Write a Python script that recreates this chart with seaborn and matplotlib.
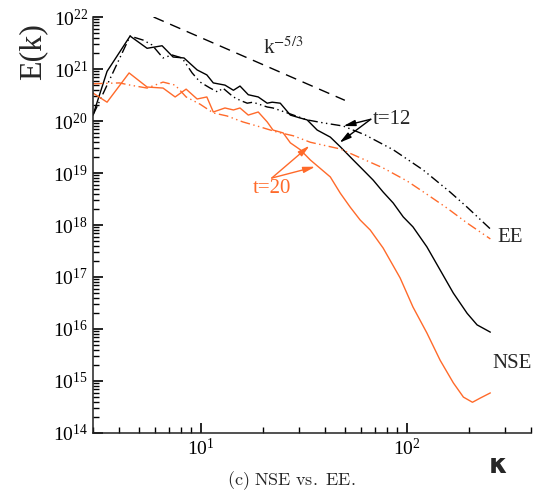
import numpy as np
import pandas as pd
import matplotlib
matplotlib.use("Agg")
import matplotlib.pyplot as plt
import seaborn as sns
from matplotlib.ticker import LogLocator, NullFormatter

# ---------------- data ----------------
k_nse12 = [3.0, 3.51, 4.54, 5.49, 6.49, 7.34, 8.29, 9.6, 10.7, 11.5, 13.1, 14.4, 15.5, 17.0,
           19.0, 21.0, 22.2, 24.3, 27.2, 30.4, 32.8, 36.7, 42.5, 47.5, 54.9, 61.4, 68.6, 76.7,
           85.8, 96.0, 107, 125, 145, 168, 196, 219, 254]
E_nse12 = [1.3e20, 9.0e20, 4.3e21, 2.5e21, 2.8e21, 1.7e21, 1.63e21, 9.6e20, 7.7e20, 5.4e20,
           4.9e20, 3.9e20, 4.7e20, 3.2e20, 2.9e20, 2.2e20, 2.3e20, 2.2e20, 1.3e20, 1.14e20,
           1.05e20, 6.7e19, 4.9e19, 3.2e19, 1.78e19, 1.14e19, 7.3e18, 4.3e18, 2.65e18, 1.43e18,
           9.2e17, 3.8e17, 1.36e17, 4.9e16, 2.0e16, 1.2e16, 8.7e15]

k_ee12 = [3.0, 3.63, 4.54, 5.25, 5.80, 6.56, 7.26, 8.11, 9.08, 9.93, 11.1, 12.1, 12.8, 14.4,
          15.5, 16.8, 17.9, 21.0, 22.4, 26.3, 32.8, 39.3, 49.1, 62.7, 85.8, 120, 162, 196, 254]
E_ee12 = [1.3e20, 6.5e20, 4.3e21, 3.6e21, 2.9e21, 1.63e21, 1.86e21, 1.63e21, 8.4e20, 5.6e20,
          4.3e20, 3.6e20, 4.3e20, 2.9e20, 2.5e20, 2.2e20, 2.3e20, 1.86e20, 1.78e20, 1.43e20,
          1.05e20, 9.2e19, 8.0e19, 5.4e19, 2.8e19, 1.14e19, 4.3e18, 2.2e18, 8.4e17]

k_nse20 = [3.0, 3.51, 4.49, 5.49, 6.56, 7.51, 8.49, 9.6, 10.7, 11.5, 13.1, 14.4, 15.5, 17.0,
           19.0, 21.0, 22.4, 25.1, 27.2, 30.4, 34.0, 42.5, 47.5, 53.1, 59.3, 66.4, 76.7, 92.7,
           107, 125, 145, 168, 188, 208, 227, 254]
E_nse20 = [3.45e20, 2.3e20, 8.4e20, 4.5e20, 4.3e20, 2.9e20, 4.1e20, 2.65e20, 2.9e20, 1.49e20,
           1.78e20, 1.63e20, 1.78e20, 1.3e20, 1.49e20, 9.6e19, 6.7e19, 5.9e19, 3.8e19, 2.8e19,
           1.78e19, 8.4e18, 4.1e18, 2.2e18, 1.25e18, 8.0e17, 3.6e17, 9.6e16, 2.65e16, 8.4e15,
           2.5e15, 9.2e14, 4.9e14, 3.9e14, 4.7e14, 5.9e14]

k_ee20 = [3.0, 4.03, 4.54, 5.49, 6.56, 7.51, 8.49, 9.93, 11.5, 13.4, 16.0, 19.4, 23.5, 28.1,
          34.0, 47.5, 76.7, 100.3, 125, 157, 196, 254]
E_ee20 = [5.2e20, 5.4e20, 4.9e20, 4.3e20, 5.6e20, 4.9e20, 2.9e20, 2.1e20, 1.43e20, 1.25e20,
          9.6e19, 7.7e19, 6.1e19, 5.2e19, 3.9e19, 2.9e19, 1.25e19, 7.0e18, 3.9e18, 2.1e18,
          1.09e18, 5.4e17]

# k^-5/3 reference line (end points)
k_ref = [5.9, 50.0]
E_ref = [1.0e22, 2.5e20]

# ---------------- style ----------------
sns.set_style("ticks")
plt.rcParams["font.family"] = ["Liberation Serif", "DejaVu Sans"]
plt.rcParams["mathtext.fontset"] = "stix"

ORANGE = "#FF6A2A"
DASH_DOT_DOT = (0, (7, 2.5, 1, 2.5, 1, 2.5))

fig = plt.figure(figsize=(5.35, 4.93), dpi=100)
ax = fig.add_axes([93 / 535, 1 - 433 / 493, 438 / 535, 416 / 493])

series = [
    (k_nse12, E_nse12, "black", "-"),
    (k_ee12, E_ee12, "black", DASH_DOT_DOT),
    (k_nse20, E_nse20, ORANGE, "-"),
    (k_ee20, E_ee20, ORANGE, DASH_DOT_DOT),
]
for kk, ee, col, ls in series:
    df = pd.DataFrame({"k": kk, "E": ee})
    sns.lineplot(data=df, x="k", y="E", ax=ax, color=col, linestyle=ls, lw=1.0,
                 estimator=None, sort=False)

sns.lineplot(x=k_ref, y=E_ref, ax=ax, color="black", linestyle=(0, (8, 5)), lw=1.0,
             estimator=None, sort=False)

ax.set_xscale("log")
ax.set_yscale("log")
ax.set_xlim(3, 400)
ax.set_ylim(1e14, 1e22)
ax.set_xlabel("")
ax.set_ylabel("")

ax.yaxis.set_major_locator(LogLocator(base=10, numticks=20))
ax.yaxis.set_minor_locator(LogLocator(base=10, subs=np.arange(2, 10), numticks=200))
ax.yaxis.set_minor_formatter(NullFormatter())
ax.xaxis.set_minor_locator(LogLocator(base=10, subs=np.arange(2, 10), numticks=200))
ax.xaxis.set_minor_formatter(NullFormatter())

sns.despine(ax=ax)
for s in ["left", "bottom"]:
    ax.spines[s].set_linewidth(1.1)
    ax.spines[s].set_color("#222222")
ax.tick_params(which="both", direction="in", color="black", labelcolor="black",
               labelsize=14, pad=3.5)
ax.tick_params(which="major", length=7, width=1.2)
ax.tick_params(which="minor", length=4, width=1.0)

# annotations
arrow_kw = dict(arrowstyle="-|>,head_length=0.7,head_width=0.18", lw=1.0,
                shrinkA=0, shrinkB=0)
ax.annotate("", xy=(49.2, 8.0e19), xytext=(66.8, 1.08e20),
            arrowprops=dict(color="black", **arrow_kw))
ax.annotate("", xy=(47.1, 3.83e19), xytext=(66.8, 1.08e20),
            arrowprops=dict(color="black", **arrow_kw))
ax.text(68.5, 1.09e20, "t=12", fontsize=15, ha="left", va="center")

ax.annotate("", xy=(33.7, 3.35e19), xytext=(22.1, 8.0e18),
            arrowprops=dict(color=ORANGE, **arrow_kw))
ax.annotate("", xy=(35.9, 1.32e19), xytext=(22.1, 8.0e18),
            arrowprops=dict(color=ORANGE, **arrow_kw))
ax.text(22.2, 5.1e18, "t=20", fontsize=15, ha="center", va="center", color=ORANGE)

ax.text(25.1, 2.5e21, r"k$^{-5/3}$", fontsize=15, ha="center", va="center")

ax.text(0.952, 0.469, "EE", transform=ax.transAxes, fontsize=15, ha="center", va="center")
ax.text(0.957, 0.168, "NSE", transform=ax.transAxes, fontsize=15, ha="center", va="center")

fig.text(33 / 535, 1 - 52 / 493, "E(k)", rotation=90, fontsize=23, ha="center", va="center")
fig.text(498 / 535, 1 - 466 / 493, "κ", fontsize=19, fontweight="bold",
         family="DejaVu Sans", ha="center", va="center")
fig.text(291 / 535, 1 - 481 / 493, r"$\mathrm{(c)\ NSE\ vs.\ EE.}$", math_fontfamily="cm",
         fontsize=13, ha="center", va="center")

fig.savefig("out.png", dpi=100)
